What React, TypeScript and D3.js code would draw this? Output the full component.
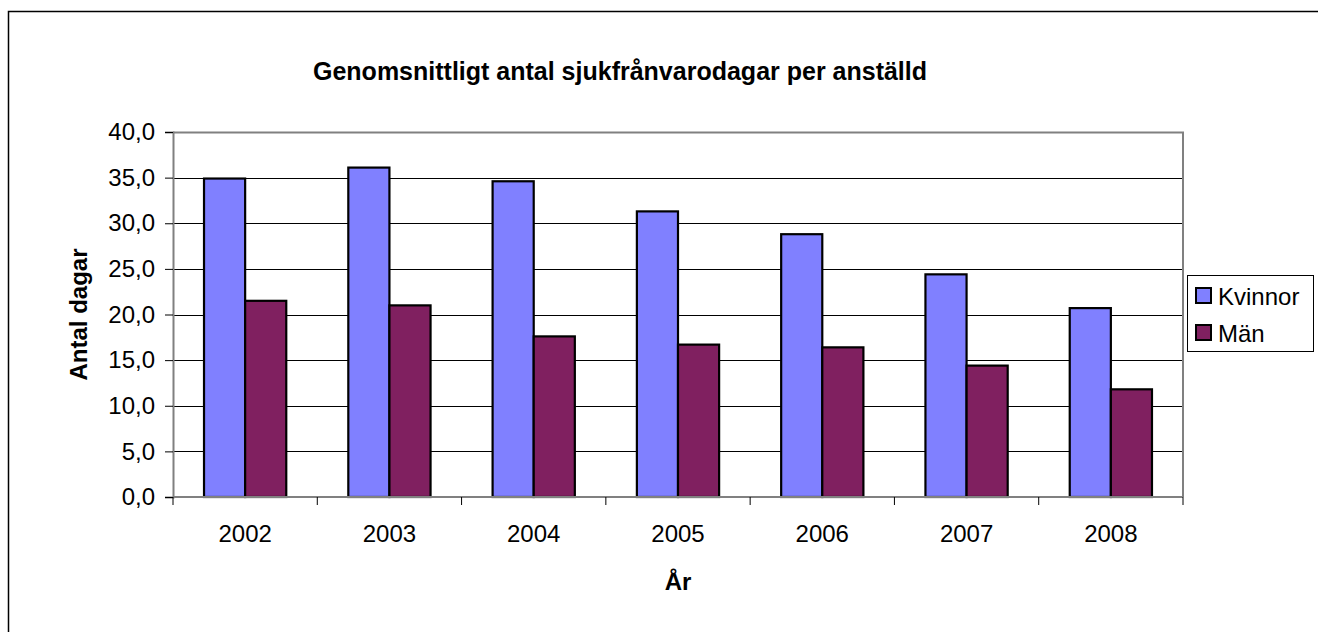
import { useRef, useEffect } from 'react';
import * as d3 from 'd3';

const years = ['2002', '2003', '2004', '2005', '2006', '2007', '2008'];
const kvinnor = [34.9, 36.1, 34.6, 31.3, 28.8, 24.4, 20.7];
const man = [21.5, 21.0, 17.6, 16.7, 16.4, 14.4, 11.8];
const seriesNames = ['Kvinnor', 'Män'];
const yTicks = [0, 5, 10, 15, 20, 25, 30, 35, 40];

const colors = ['#8080ff', '#802060'];
const FONT = 'Arial, "Liberation Sans", sans-serif';

export default function App() {
  const svgRef = useRef<SVGSVGElement>(null);

  useEffect(() => {
    if (!svgRef.current) return;
    document.body.style.margin = '0';
    document.body.style.overflow = 'hidden';
    const width = 1318;
    const height = 632;
    const plot = { left: 173, right: 1183, top: 132, bottom: 497 };

    const svg = d3.select(svgRef.current);
    svg.selectAll('*').remove();
    svg.attr('width', width).attr('height', height);

    svg.append('rect').attr('width', width).attr('height', height).attr('fill', '#fff');

    // outer chart frame: only left and top edges fall inside the picture
    svg.append('path')
      .attr('d', `M8.5,${height}V11.5H${width}`)
      .attr('fill', 'none').attr('stroke', '#000').attr('stroke-width', 1.5);

    const x0 = d3.scaleBand<string>()
      .domain(years)
      .range([plot.left, plot.right])
      .paddingInner(0.43)
      .paddingOuter(0.215);

    const x1 = d3.scaleBand<number>()
      .domain([0, 1])
      .range([0, x0.bandwidth()]);

    const y = d3.scaleLinear().domain([0, 40]).range([plot.bottom, plot.top]);

    // gridlines
    svg.selectAll('line.grid')
      .data(yTicks.filter(t => t > 0 && t < 40))
      .join('line')
      .attr('class', 'grid')
      .attr('x1', plot.left).attr('x2', plot.right)
      .attr('y1', d => Math.round(y(d)) + 0.5).attr('y2', d => Math.round(y(d)) + 0.5)
      .attr('stroke', '#000').attr('stroke-width', 1);

    // top and right border of the plot area
    svg.append('path')
      .attr('d', `M${plot.left},${plot.top + 0.5}H${plot.right}V${plot.bottom}`)
      .attr('fill', 'none').attr('stroke', '#808080').attr('stroke-width', 2);

    // bars
    const rows = years.map((yr, i) => ({ yr, vals: [kvinnor[i], man[i]] }));
    const g = svg.selectAll('g.grp')
      .data(rows)
      .join('g')
      .attr('class', 'grp')
      .attr('transform', d => `translate(${x0(d.yr)},0)`);

    g.selectAll('rect')
      .data(d => d.vals.map((v, s) => ({ v, s })))
      .join('rect')
      .attr('x', d => x1(d.s)!)
      .attr('y', d => y(d.v))
      .attr('width', x1.bandwidth())
      .attr('height', d => y(0) - y(d.v))
      .attr('fill', d => colors[d.s])
      .attr('stroke', '#000')
      .attr('stroke-width', 2.2);

    // y axis
    const yAxis = svg.append('g')
      .attr('transform', `translate(${plot.left},0)`)
      .call(d3.axisLeft(y).tickValues(yTicks).tickSize(8).tickPadding(10)
        .tickFormat(d => (d as number).toFixed(1).replace('.', ',')));
    yAxis.select('.domain').attr('stroke', '#808080').attr('stroke-width', 2);
    yAxis.selectAll('.tick line').attr('stroke', '#000');
    yAxis.selectAll('text')
      .attr('font-family', FONT).attr('font-size', 24).attr('fill', '#000');

    // x axis, ticks sit on the category boundaries
    const bounds = d3.range(years.length + 1).map(i => plot.left + i * (plot.right - plot.left) / years.length);
    svg.append('line')
      .attr('x1', plot.left).attr('x2', plot.right)
      .attr('y1', plot.bottom).attr('y2', plot.bottom)
      .attr('stroke', '#808080').attr('stroke-width', 2);
    svg.selectAll('line.xtick')
      .data(bounds)
      .join('line')
      .attr('class', 'xtick')
      .attr('x1', d => d).attr('x2', d => d)
      .attr('y1', plot.bottom).attr('y2', plot.bottom + 8)
      .attr('stroke', '#000');
    svg.selectAll('text.xlab')
      .data(years)
      .join('text')
      .attr('class', 'xlab')
      .attr('x', d => x0(d)! + x0.bandwidth() / 2)
      .attr('y', 542)
      .attr('text-anchor', 'middle')
      .attr('font-family', FONT).attr('font-size', 24)
      .text(d => d);

    // titles
    svg.append('text')
      .attr('x', 313).attr('y', 80)
      .attr('font-family', FONT).attr('font-size', 25).attr('font-weight', 'bold')
      .text('Genomsnittligt antal sjukfrånvarodagar per anställd');

    svg.append('text')
      .attr('x', (plot.left + plot.right) / 2).attr('y', 590)
      .attr('text-anchor', 'middle')
      .attr('font-family', FONT).attr('font-size', 24).attr('font-weight', 'bold')
      .text('År');

    svg.append('text')
      .attr('transform', `translate(87,${(plot.top + plot.bottom) / 2}) rotate(-90)`)
      .attr('text-anchor', 'middle')
      .attr('font-family', FONT).attr('font-size', 24).attr('font-weight', 'bold')
      .text('Antal dagar');

    // legend
    const leg = svg.append('g').attr('transform', 'translate(1187,275)');
    leg.append('rect')
      .attr('x', 0.5).attr('y', 0.5).attr('width', 126).attr('height', 76)
      .attr('fill', '#fff').attr('stroke', '#000').attr('stroke-width', 1);
    seriesNames.forEach((name, i) => {
      leg.append('rect')
        .attr('x', 9).attr('y', 13 + i * 37).attr('width', 15).attr('height', 15)
        .attr('fill', colors[i]).attr('stroke', '#000').attr('stroke-width', 2);
      leg.append('text')
        .attr('x', 31).attr('y', 30 + i * 37)
        .attr('font-family', FONT).attr('font-size', 24)
        .text(name);
    });
  }, []);

  return <svg ref={svgRef} style={{ display: 'block' }} />;
}
